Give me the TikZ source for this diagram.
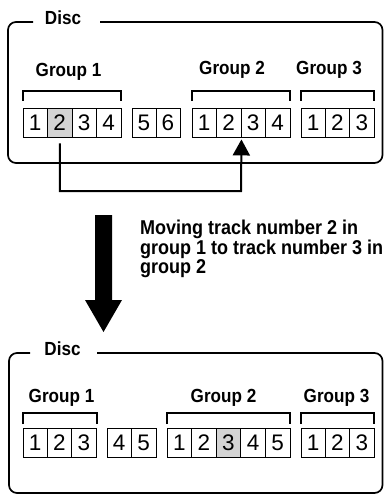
\documentclass[tikz,border=0pt]{standalone}
\usepackage{fontspec}
\setmainfont{Liberation Sans}
\newfontfamily\condbold[FakeStretch=0.9]{Liberation Sans Bold}
\usetikzlibrary{arrows.meta}
\definecolor{cellgray}{HTML}{D4D4D4}
\tikzset{
  boxline/.style={line width=1.7pt, rounded corners=8pt},
  bracketline/.style={line width=2pt},
  cellbox/.style={draw, line width=0.9pt, inner sep=0pt, minimum height=29pt,
    font=\fontsize{22.5}{22.5}\selectfont},
  lbl/.style={anchor=base, inner sep=0pt, font=\condbold\fontsize{19}{19}\selectfont},
  note/.style={anchor=north west, inner sep=0pt, align=left,
    font=\condbold\fontsize{20}{19.5}\selectfont},
  movearrow/.style={line width=2pt, -{Triangle[width=17pt,length=16pt]}},
}
\newcommand{\cellrow}[5]{% name, x0, width, ycenter, list
  \foreach \t [count=\k] in {#5}{
    \node[cellbox, minimum width=#3pt] (#1\k) at ({#2+(\k-0.5)*#3}, #4) {\t};
  }
}
\begin{document}
\begin{tikzpicture}[x=1pt, y=-1pt]
\useasboundingbox (0,0) rectangle (384,494);
% ---------- top disc ----------
\draw[boxline] (100,22) -- (382.5,22) -- (382.5,163) -- (8,163) -- (8,22) -- (33,22);
\node[lbl] (disc1) at (63,25) {Disc};
\node[lbl] (t1lab) at (68.5,77) {Group 1};
\node[lbl] (t2lab) at (232,74.5) {Group 2};
\node[lbl] (t3lab) at (329,74.5) {Group 3};
\draw[bracketline] (23,101) -- (23,91) -- (121,91) -- (121,101);
\draw[bracketline] (192,101) -- (192,91) -- (290,91) -- (290,101);
\draw[bracketline] (301,101) -- (301,91) -- (374,91) -- (374,101);
\fill[cellgray] (47.5,108) rectangle (72,137);
\cellrow{ta}{23}{24.5}{122.5}{1,2,3,4}
\cellrow{tb}{132}{24}{122.5}{5,6}
\cellrow{tc}{192}{24.5}{122.5}{1,2,3,4}
\cellrow{td}{301}{24.33}{122.5}{1,2,3}
\coordinate (bend) at (241,191);
\draw[movearrow] ([yshift=-6pt]ta2.south) |- (bend) -- ([yshift=-2pt]tc2.south east);
% ---------- big arrow ----------
\fill (95,215) -- (112,215) -- (112,300) -- (122,300) -- (103.5,332) -- (85,300) -- (95,300) -- cycle;
\node[note] (txt) at (140,220) {Moving track number 2 in\\group 1 to track number 3 in\\group 2};
% ---------- bottom disc ----------
\draw[boxline] (97,353) -- (382.5,353) -- (382.5,493) -- (9,493) -- (9,353) -- (30,353);
\node[lbl] (disc2) at (62.5,355) {Disc};
\node[lbl] (b1lab) at (61.5,402) {Group 1};
\node[lbl] (b2lab) at (223.5,402) {Group 2};
\node[lbl] (b3lab) at (336.5,402) {Group 3};
\draw[bracketline] (23,424) -- (23,413) -- (97,413) -- (97,424);
\draw[bracketline] (167,424) -- (167,413) -- (290,413) -- (290,424);
\draw[bracketline] (301,424) -- (301,413) -- (374,413) -- (374,424);
\fill[cellgray] (216.2,428) rectangle (240.8,457);
\cellrow{ba}{23}{24.33}{442.5}{1,2,3}
\cellrow{bb}{107}{24.5}{442.5}{4,5}
\cellrow{bc}{167}{24.6}{442.5}{1,2,3,4,5}
\cellrow{bd}{301}{24.33}{442.5}{1,2,3}
\end{tikzpicture}
\end{document}
